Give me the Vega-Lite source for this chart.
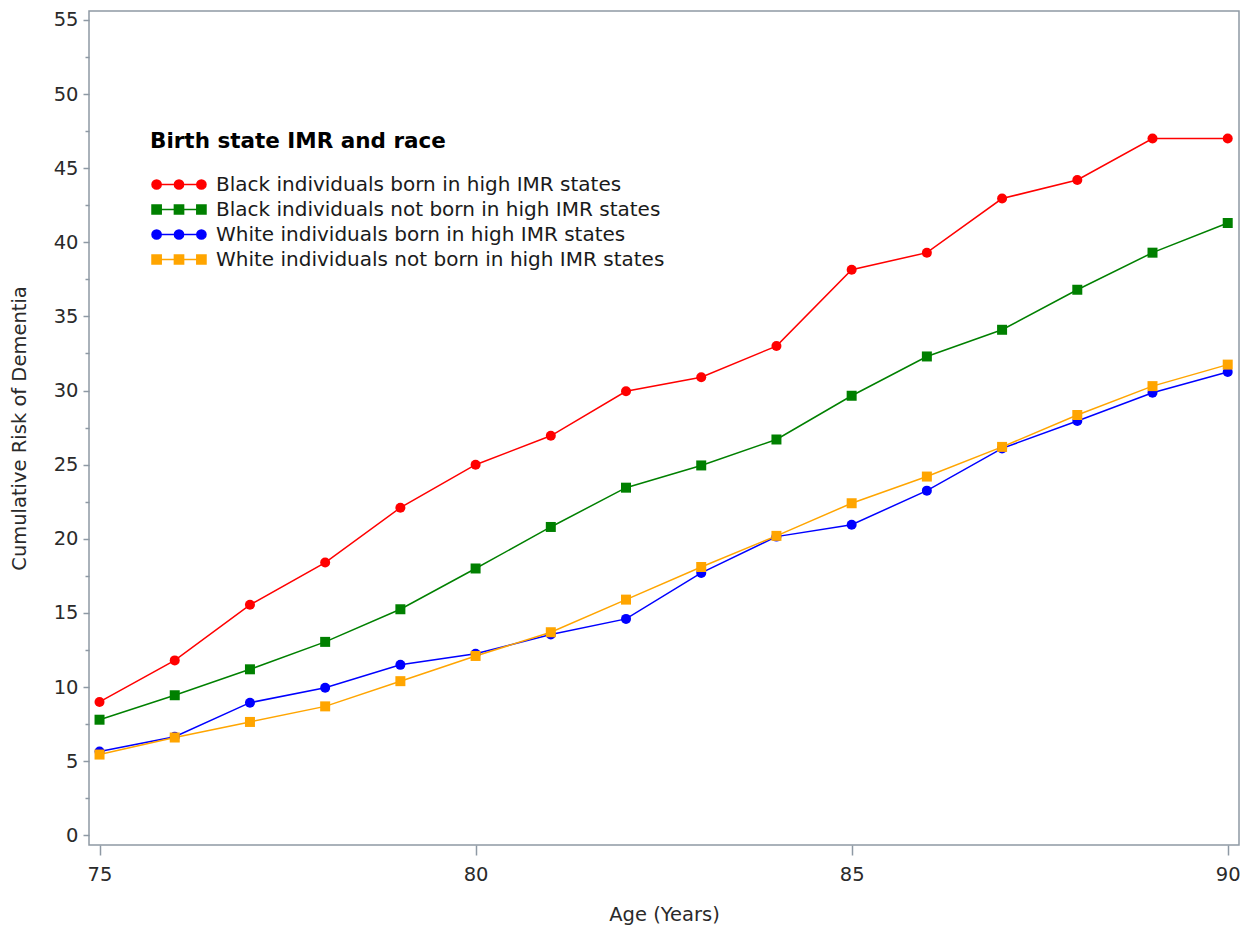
{
  "$schema": "https://vega.github.io/schema/vega-lite/v6.json",
  "width": 1150,
  "height": 834,
  "autosize": {"type": "none"},
  "padding": {"left": 89, "top": 11, "right": 15, "bottom": 90},
  "background": "white",
  "config": {
    "font": "DejaVu Sans",
    "view": {"stroke": "#8e99a4", "strokeWidth": 1.5},
    "axis": {
      "domain": false,
      "grid": false,
      "labelFont": "DejaVu Sans",
      "labelFontSize": 19.5,
      "labelColor": "#2a2a2a",
      "tickColor": "#8e99a4",
      "tickWidth": 1.5,
      "titleFont": "DejaVu Sans",
      "titleFontSize": 19.5,
      "titleFontWeight": "normal",
      "titleColor": "#2a2a2a"
    }
  },
  "data": {
    "values": [
      {"age": 75, "group": "Black individuals born in high IMR states", "risk": 9.0},
      {"age": 76, "group": "Black individuals born in high IMR states", "risk": 11.8},
      {"age": 77, "group": "Black individuals born in high IMR states", "risk": 15.55},
      {"age": 78, "group": "Black individuals born in high IMR states", "risk": 18.4},
      {"age": 79, "group": "Black individuals born in high IMR states", "risk": 22.1},
      {"age": 80, "group": "Black individuals born in high IMR states", "risk": 25.0},
      {"age": 81, "group": "Black individuals born in high IMR states", "risk": 26.95},
      {"age": 82, "group": "Black individuals born in high IMR states", "risk": 29.95},
      {"age": 83, "group": "Black individuals born in high IMR states", "risk": 30.9},
      {"age": 84, "group": "Black individuals born in high IMR states", "risk": 33.0},
      {"age": 85, "group": "Black individuals born in high IMR states", "risk": 38.15},
      {"age": 86, "group": "Black individuals born in high IMR states", "risk": 39.3},
      {"age": 87, "group": "Black individuals born in high IMR states", "risk": 42.95},
      {"age": 88, "group": "Black individuals born in high IMR states", "risk": 44.2},
      {"age": 89, "group": "Black individuals born in high IMR states", "risk": 47.0},
      {"age": 90, "group": "Black individuals born in high IMR states", "risk": 47.0},
      {"age": 75, "group": "Black individuals not born in high IMR states", "risk": 7.8},
      {"age": 76, "group": "Black individuals not born in high IMR states", "risk": 9.45},
      {"age": 77, "group": "Black individuals not born in high IMR states", "risk": 11.2},
      {"age": 78, "group": "Black individuals not born in high IMR states", "risk": 13.05},
      {"age": 79, "group": "Black individuals not born in high IMR states", "risk": 15.25},
      {"age": 80, "group": "Black individuals not born in high IMR states", "risk": 18.0},
      {"age": 81, "group": "Black individuals not born in high IMR states", "risk": 20.8},
      {"age": 82, "group": "Black individuals not born in high IMR states", "risk": 23.45},
      {"age": 83, "group": "Black individuals not born in high IMR states", "risk": 24.95},
      {"age": 84, "group": "Black individuals not born in high IMR states", "risk": 26.7},
      {"age": 85, "group": "Black individuals not born in high IMR states", "risk": 29.65},
      {"age": 86, "group": "Black individuals not born in high IMR states", "risk": 32.3},
      {"age": 87, "group": "Black individuals not born in high IMR states", "risk": 34.1},
      {"age": 88, "group": "Black individuals not born in high IMR states", "risk": 36.8},
      {"age": 89, "group": "Black individuals not born in high IMR states", "risk": 39.3},
      {"age": 90, "group": "Black individuals not born in high IMR states", "risk": 41.3},
      {"age": 75, "group": "White individuals born in high IMR states", "risk": 5.65},
      {"age": 76, "group": "White individuals born in high IMR states", "risk": 6.65},
      {"age": 77, "group": "White individuals born in high IMR states", "risk": 8.95},
      {"age": 78, "group": "White individuals born in high IMR states", "risk": 9.95},
      {"age": 79, "group": "White individuals born in high IMR states", "risk": 11.5},
      {"age": 80, "group": "White individuals born in high IMR states", "risk": 12.25},
      {"age": 81, "group": "White individuals born in high IMR states", "risk": 13.55},
      {"age": 82, "group": "White individuals born in high IMR states", "risk": 14.6},
      {"age": 83, "group": "White individuals born in high IMR states", "risk": 17.7},
      {"age": 84, "group": "White individuals born in high IMR states", "risk": 20.15},
      {"age": 85, "group": "White individuals born in high IMR states", "risk": 20.95},
      {"age": 86, "group": "White individuals born in high IMR states", "risk": 23.25},
      {"age": 87, "group": "White individuals born in high IMR states", "risk": 26.1},
      {"age": 88, "group": "White individuals born in high IMR states", "risk": 27.95},
      {"age": 89, "group": "White individuals born in high IMR states", "risk": 29.85},
      {"age": 90, "group": "White individuals born in high IMR states", "risk": 31.25},
      {"age": 75, "group": "White individuals not born in high IMR states", "risk": 5.45},
      {"age": 76, "group": "White individuals not born in high IMR states", "risk": 6.6},
      {"age": 77, "group": "White individuals not born in high IMR states", "risk": 7.65},
      {"age": 78, "group": "White individuals not born in high IMR states", "risk": 8.7},
      {"age": 79, "group": "White individuals not born in high IMR states", "risk": 10.4},
      {"age": 80, "group": "White individuals not born in high IMR states", "risk": 12.1},
      {"age": 81, "group": "White individuals not born in high IMR states", "risk": 13.7},
      {"age": 82, "group": "White individuals not born in high IMR states", "risk": 15.9},
      {"age": 83, "group": "White individuals not born in high IMR states", "risk": 18.1},
      {"age": 84, "group": "White individuals not born in high IMR states", "risk": 20.2},
      {"age": 85, "group": "White individuals not born in high IMR states", "risk": 22.4},
      {"age": 86, "group": "White individuals not born in high IMR states", "risk": 24.2},
      {"age": 87, "group": "White individuals not born in high IMR states", "risk": 26.2},
      {"age": 88, "group": "White individuals not born in high IMR states", "risk": 28.35},
      {"age": 89, "group": "White individuals not born in high IMR states", "risk": 30.3},
      {"age": 90, "group": "White individuals not born in high IMR states", "risk": 31.75}
    ]
  },
  "encoding": {
    "x": {
      "field": "age",
      "type": "quantitative",
      "scale": {"domain": [74.86, 90.15], "nice": false, "zero": false},
      "axis": {
        "title": "Age (Years)",
        "values": [75, 80, 85, 90],
        "tickSize": 10,
        "labelPadding": 10,
        "titlePadding": 22
      }
    },
    "y": {
      "field": "risk",
      "type": "quantitative",
      "scale": {"domain": [-0.65, 55.6], "nice": false, "zero": false},
      "axis": {
        "title": "Cumulative Risk of Dementia",
        "values": [0, 2.5, 5, 7.5, 10, 12.5, 15, 17.5, 20, 22.5, 25, 27.5, 30, 32.5, 35, 37.5, 40, 42.5, 45, 47.5, 50, 52.5, 55],
        "labelExpr": "datum.value % 5 === 0 ? datum.label : ''",
        "tickSize": {"condition": {"test": "datum.value % 5 === 0", "value": 6}, "value": 4},
        "labelPadding": 5,
        "titlePadding": 24
      }
    },
    "color": {
      "field": "group",
      "type": "nominal",
      "scale": {
        "domain": [
          "Black individuals born in high IMR states",
          "Black individuals not born in high IMR states",
          "White individuals born in high IMR states",
          "White individuals not born in high IMR states"
        ],
        "range": ["#ff0000", "#008000", "#0000ff", "#ffa500"]
      },
      "legend": {
        "title": "Birth state IMR and race",
        "orient": "none",
        "legendX": 61,
        "legendY": 120,
        "titleFontSize": 21.5,
        "titleFontWeight": "bold",
        "titleColor": "#000000",
        "titleFont": "DejaVu Sans",
        "titleLimit": 1000,
        "titlePadding": 22,
        "labelFontSize": 20,
        "labelFont": "DejaVu Sans",
        "labelColor": "#1a1a1a",
        "labelLimit": 800,
        "symbolSize": 100,
        "rowPadding": 5,
        "labelOffset": 46,
        "encode": {
          "symbols": {
            "update": {
              "shape": {"signal": "datum.index % 2 === 0 ? 'M-1.6,0A0.92,0.92 0 1 0 0.24,0A0.92,0.92 0 1 0 -1.6,0Z M2.88,0A0.92,0.92 0 1 0 4.72,0A0.92,0.92 0 1 0 2.88,0Z M7.36,0A0.92,0.92 0 1 0 9.2,0A0.92,0.92 0 1 0 7.36,0Z M-0.68,0L8.28,0' : 'M-1.6,-0.92H0.24V0.92H-1.6Z M2.88,-0.92H4.72V0.92H2.88Z M7.36,-0.92H9.2V0.92H7.36Z M-0.68,0L8.28,0'"},
              "size": {"value": 100},
              "fill": {"signal": "scale('color', datum.value)"},
              "stroke": {"signal": "scale('color', datum.value)"},
              "strokeWidth": {"value": 1.5},
              "opacity": {"value": 1}
            }
          }
        }
      }
    }
  },
  "layer": [
    {
      "mark": {"type": "line", "strokeWidth": 1.5}
    },
    {
      "mark": {"type": "point", "filled": true, "opacity": 1, "size": 100},
      "encoding": {
        "shape": {
          "field": "group",
          "type": "nominal",
          "scale": {"range": ["circle", "square", "circle", "square"]},
          "legend": null
        }
      }
    }
  ]
}
